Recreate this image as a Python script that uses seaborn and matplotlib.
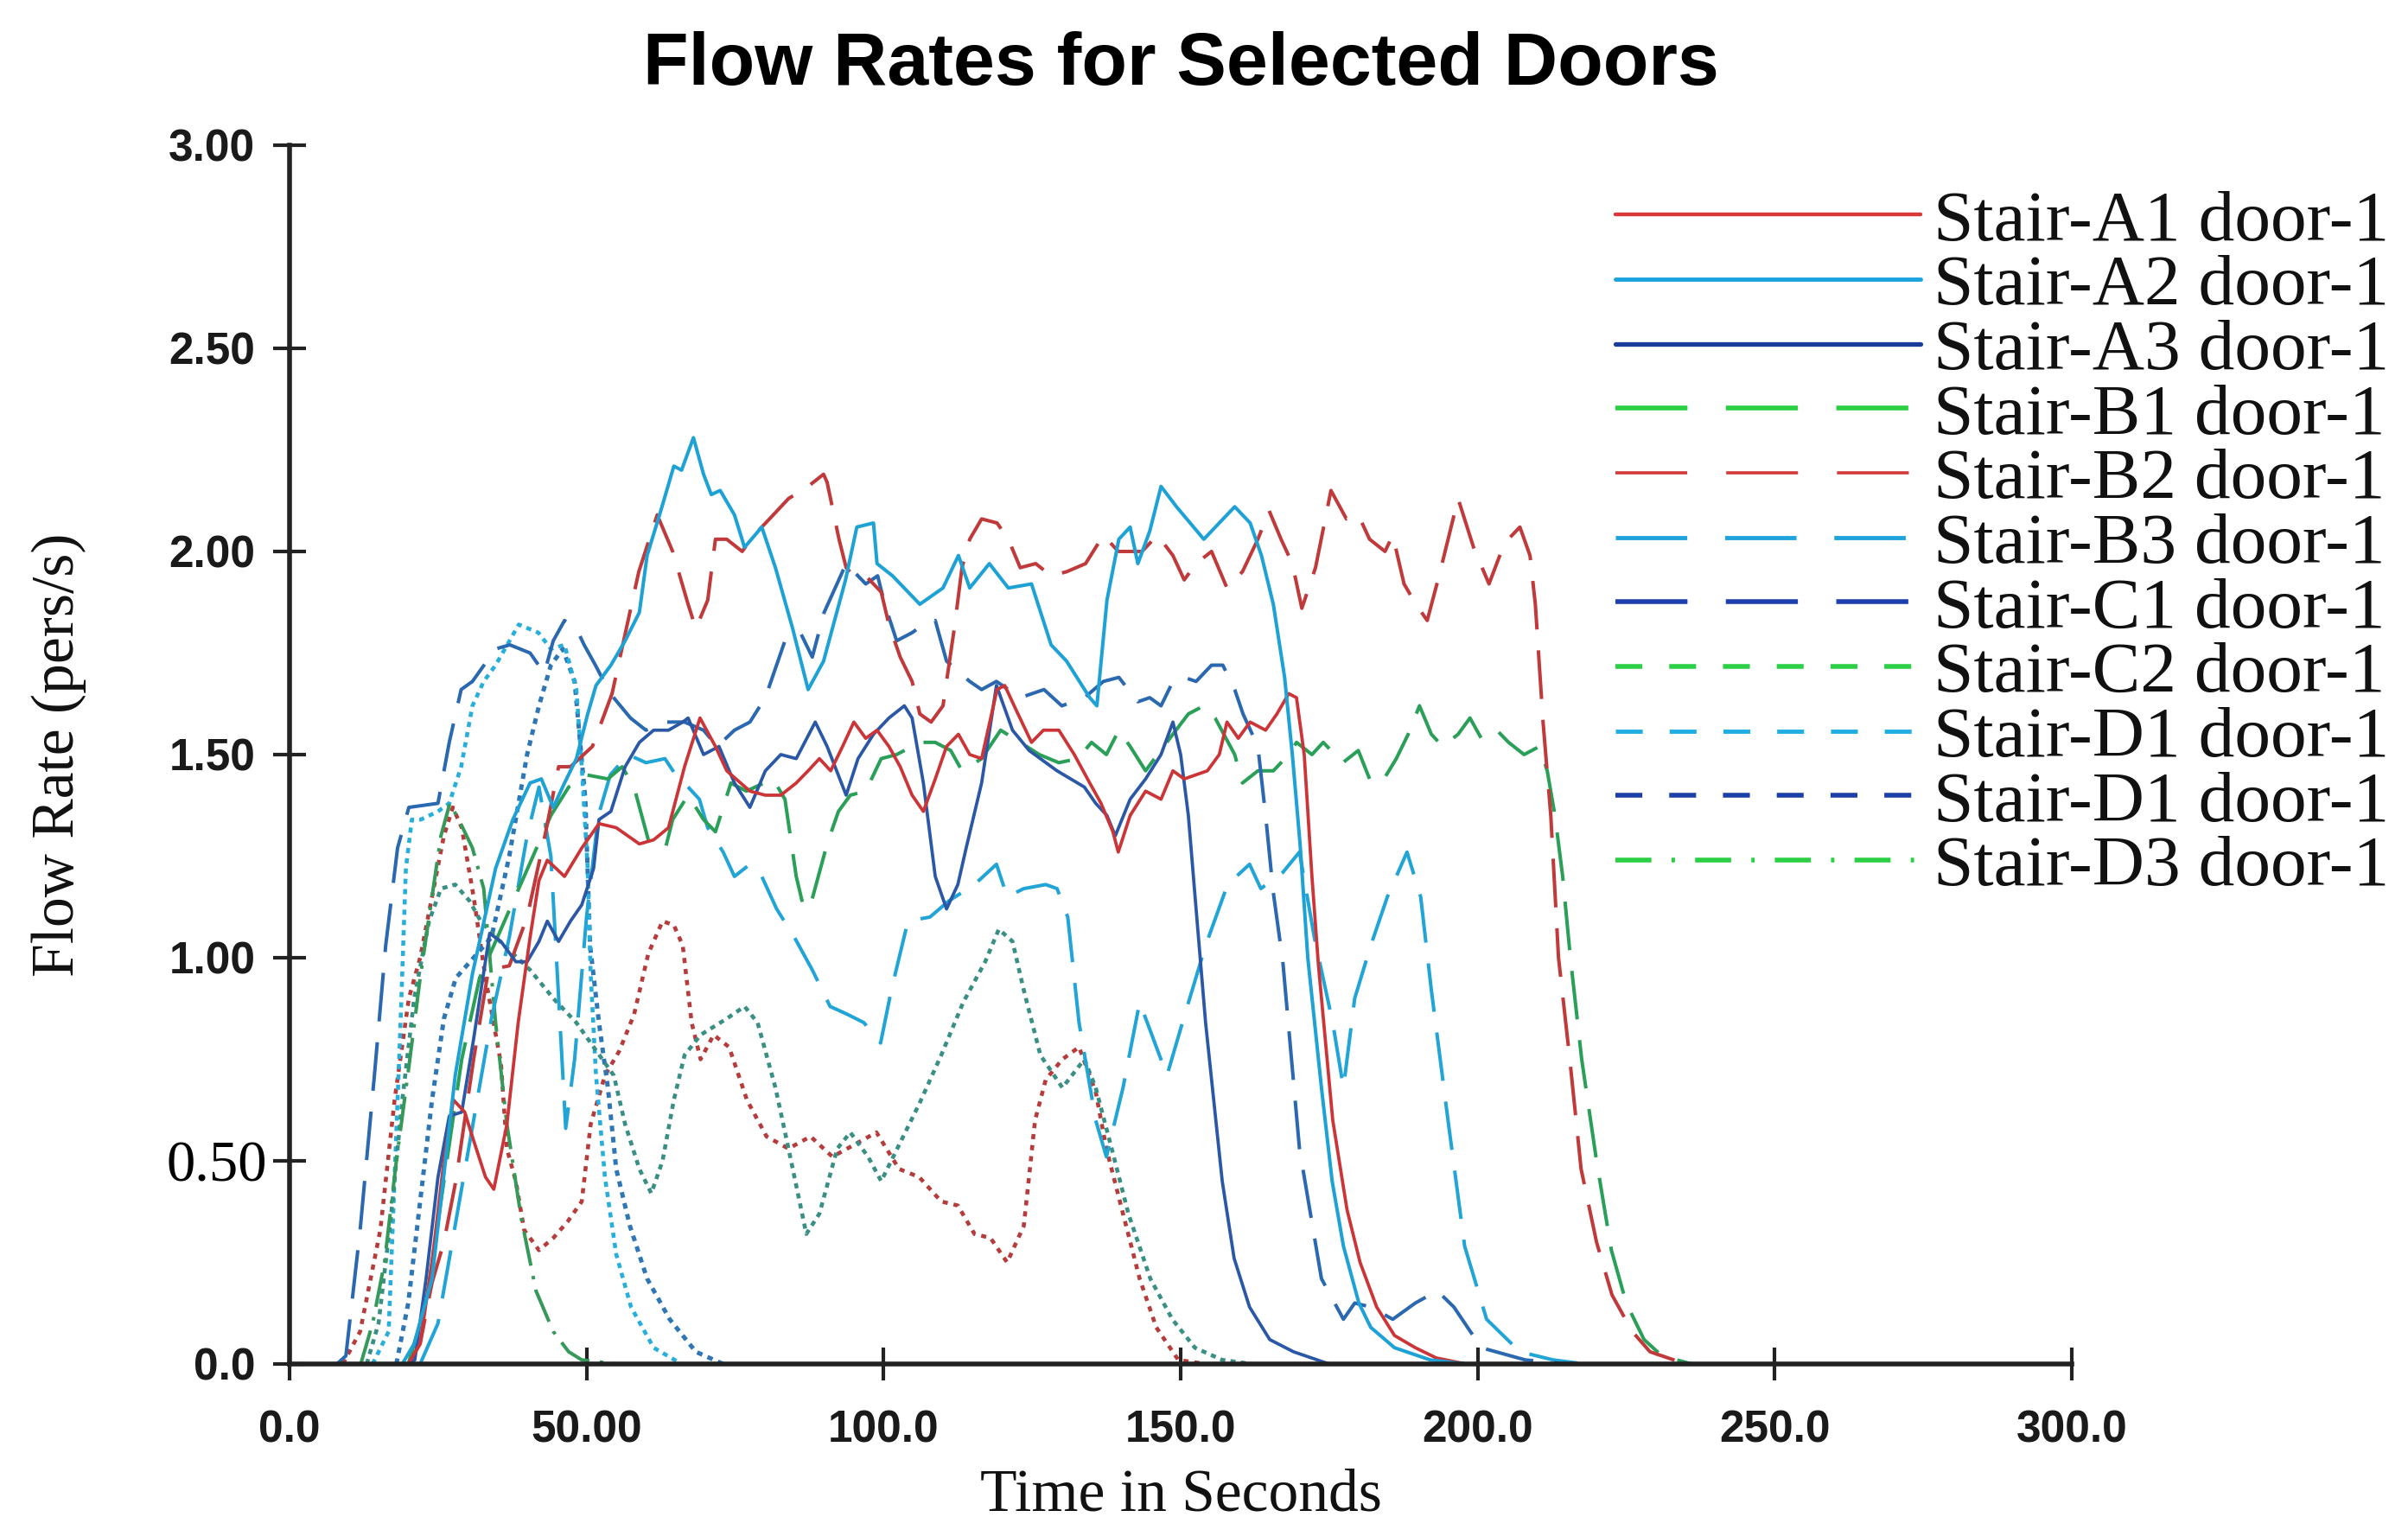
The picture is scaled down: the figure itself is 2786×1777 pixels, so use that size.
import pandas as pd
import seaborn as sns
import matplotlib
matplotlib.use('Agg')
import matplotlib.pyplot as plt
from matplotlib.lines import Line2D
from matplotlib.transforms import ScaledTranslation
from matplotlib import font_manager

# flow curves: (time in s, flow rate in pers/s)
a1 = [(20,0),(22,0.05),(24,0.25),(26,0.5),(27.6,0.65),(29.5,0.62),(31,0.55),(33,0.46),(34.4,0.43),
      (36.6,0.59),(38.5,0.84),(40.5,1.05),(42,1.19),(43.4,1.24),(46.3,1.20),(49.2,1.27),(52.1,1.33),
      (55,1.32),(58.9,1.28),(61.3,1.29),(63.8,1.32),(66.5,1.47),(69.1,1.59),(71.7,1.52),(73.6,1.46),
      (77.5,1.41),(80.1,1.40),(82.7,1.40),(85.3,1.43),(87.3,1.46),(89.2,1.49),(91.1,1.46),(93.1,1.52),
      (95,1.58),(97,1.54),(98.9,1.56),(100.9,1.52),(102.8,1.47),(104.8,1.40),(106.7,1.36),(108.7,1.44),
      (110.6,1.52),(112.6,1.55),(114.5,1.50),(116.5,1.49),(119.1,1.66),(120.4,1.67),(122.3,1.61),
      (124.9,1.53),(126.9,1.56),(129.5,1.56),(132.1,1.50),(134.7,1.43),(136.6,1.38),(138.6,1.31),
      (139.5,1.26),(141.5,1.35),(144.1,1.41),(146.7,1.39),(148.7,1.46),(150.6,1.44),(154.5,1.46),
      (156.5,1.50),(157.8,1.58),(159.7,1.54),(161.7,1.58),(164.3,1.56),(166.2,1.60),(168.2,1.65),
      (169.5,1.64),(170.8,1.50),(172.1,1.20),(173.2,0.98),(175.6,0.60),(178,0.38),(180.2,0.25),
      (183,0.14),(186,0.07),(189.5,0.04),(193,0.015),(198,0)]

a2 = [(19,0),(21,0.05),(24,0.21),(27.9,0.71),(30.8,0.96),(34.7,1.22),(37.6,1.34),(40.5,1.43),
      (42.4,1.44),(44.4,1.37),(46.3,1.43),(48.3,1.49),(50.2,1.60),(51.6,1.67),(54.1,1.72),(56.5,1.78),
      (58.9,1.85),(60.2,1.99),(62.5,2.10),(64.7,2.21),(66,2.20),(68,2.28),(69.7,2.19),(71,2.14),
      (72.5,2.15),(74.9,2.09),(76.6,2.01),(79.5,2.06),(81.8,1.96),(84.7,1.81),(87.3,1.66),(89.9,1.73),
      (93.6,1.93),(95.5,2.06),(98.3,2.07),(98.9,1.97),(101.5,1.94),(106.1,1.87),(110,1.91),(112.6,1.99),
      (114.5,1.91),(117.8,1.97),(121,1.91),(124.9,1.92),(128.2,1.77),(130.8,1.73),(134.7,1.64),
      (135.9,1.62),(137.6,1.88),(139.6,2.03),(141.5,2.06),(142.8,1.97),(144.8,2.05),(146.7,2.16),
      (149.3,2.11),(153.9,2.03),(156.5,2.07),(159.1,2.11),(161.7,2.07),(163.6,1.99),(165.6,1.87),
      (167.5,1.69),(168.8,1.50),(170.1,1.28),(171.4,1.0),(173.7,0.68),(175.5,0.45),(177.4,0.29),
      (180,0.15),(182,0.09),(186,0.04),(192,0.01),(198,0)]

a3 = [(20,0),(21.1,0.01),(23,0.21),(25,0.46),(26.9,0.61),(29,0.62),(31,0.80),(33.7,1.06),(35.6,1.04),
      (38.1,0.99),(40,0.99),(42,1.04),(43.4,1.09),(45.3,1.04),(47.3,1.09),(49.2,1.13),(51.2,1.22),
      (52.1,1.34),(54.1,1.36),(56.5,1.47),(58.9,1.53),(61.3,1.56),(63.8,1.56),(66.2,1.58),(67.1,1.59),
      (69.7,1.50),(72.3,1.52),(74.9,1.43),(77.5,1.37),(80.1,1.46),(82.7,1.50),(85.3,1.49),(88.5,1.58),
      (90.5,1.52),(93.7,1.40),(95.7,1.49),(98.3,1.55),(100.9,1.59),(103.5,1.62),(104.8,1.59),
      (106.7,1.43),(108.7,1.20),(110.6,1.12),(112.5,1.18),(113.9,1.27),(116.5,1.43),(119,1.67),
      (121.7,1.56),(124.5,1.51),(129.2,1.46),(133.8,1.42),(135.7,1.38),(137.6,1.35),(139,1.30),
      (141.5,1.39),(144.1,1.44),(146.7,1.50),(148.7,1.58),(150,1.50),(151.3,1.35),(152.6,1.12),
      (154.2,0.84),(157,0.45),(159,0.26),(161.6,0.14),(165,0.06),(169,0.03),(175,0)]

b1 = [(20,0),(23,0.15),(26,0.45),(29,0.75),(32,0.95),(35,1.05),(38,1.15),(41,1.25),(44,1.35),
      (47,1.42),(50,1.45),(53.6,1.44),(56,1.47),(58,1.42),(60.4,1.29),(63.3,1.27),(64.5,1.34),
      (67.1,1.40),(69.7,1.34),(71.7,1.31),(74.3,1.43),(76.9,1.41),(81.4,1.44),(83.4,1.39),(85.3,1.20),
      (86.6,1.12),(87.9,1.14),(90.5,1.28),(92.4,1.36),(94.4,1.40),(97,1.41),(99.6,1.49),(102.2,1.50),
      (106.1,1.53),(108.7,1.53),(111.3,1.51),(113.2,1.46),(116.5,1.49),(119.7,1.56),(123,1.53),
      (126.2,1.50),(129.5,1.48),(132.7,1.49),(135,1.53),(137.5,1.50),(139.6,1.56),(141.5,1.52),
      (144.1,1.46),(146.1,1.50),(148.7,1.55),(151.3,1.60),(153.9,1.62),(155.8,1.59),(159.1,1.50),
      (160.4,1.43),(163,1.46),(165.6,1.46),(168.2,1.50),(169.5,1.53),(172.1,1.50),(174,1.53),
      (177.3,1.48),(179.9,1.51),(181.8,1.44),(183.8,1.43),(186.3,1.49),(188.3,1.55),(190.2,1.62),
      (192.2,1.55),(194.1,1.52),(196.7,1.55),(198.7,1.59),(200.6,1.54),(203.2,1.56),(205.2,1.53),
      (207.8,1.50),(210.4,1.52),(211.7,1.46),(213,1.35),(214.3,1.20),(215.6,1.0),(217.5,0.75),
      (220,0.50),(222.5,0.28),(225,0.15),(228,0.06),(231,0.02),(236,0)]

b2 = [(20,0),(22,0.05),(24,0.2),(26,0.3),(28,0.45),(31,0.75),(33.5,0.97),(37,0.98),(40,1.1),(43,1.3),
      (45.3,1.47),(47.3,1.47),(51,1.52),(54.3,1.65),(58.8,1.95),(61.9,2.09),(64.5,2.0),(67.1,1.87),
      (68.4,1.81),(70.4,1.88),(71.7,2.03),(73.6,2.03),(76.2,2.0),(78.2,2.04),(80.8,2.08),(84,2.13),
      (87.3,2.16),(89.9,2.19),(90.5,2.17),(92.5,2.03),(93.7,1.96),(95,1.94),(97,1.94),(99.6,1.90),
      (100.9,1.82),(102.8,1.74),(104.8,1.68),(106.1,1.60),(108,1.58),(110,1.62),(111.9,1.81),
      (113.2,1.96),(114.5,2.03),(116.5,2.08),(119.1,2.07),(121,2.03),(123,1.96),(125.6,1.97),
      (128.2,1.94),(130.8,1.95),(134,1.97),(137,2.04),(139.5,2.0),(143.5,2.0),(146.1,2.04),(148.7,1.99),
      (150.6,1.93),(152.6,1.97),(155.2,2.0),(157.8,1.91),(160.4,1.95),(163,2.03),(164.9,2.10),
      (166.9,2.03),(168.8,1.97),(170.4,1.86),(172.7,1.96),(175.3,2.15),(177.9,2.08),(179.9,2.09),
      (181.8,2.03),(184.4,2.0),(185.7,2.04),(187.6,1.92),(189.6,1.87),(191.5,1.83),(193.5,1.94),
      (196.7,2.13),(199.3,2.01),(201.9,1.92),(204.5,2.02),(207.1,2.06),(208.8,1.99),(209.7,1.87),
      (211,1.58),(212.3,1.35),(213.6,1.0),(215.5,0.75),(217.4,0.48),(220,0.3),(222.6,0.17),(226,0.08),
      (229,0.03),(235,0)]

b3 = [(22,0),(25,0.1),(28,0.35),(31,0.6),(34,0.85),(37,1.05),(40,1.3),(42,1.42),(44,1.25),(45.5,0.85),
      (46.5,0.58),(48,0.75),(50,1.1),(52,1.35),(54,1.45),(57,1.50),(60,1.48),(63.2,1.49),(65,1.45),
      (67.1,1.42),(69,1.39),(70.4,1.32),(71.7,1.29),(73,1.26),(74.9,1.20),(77.5,1.23),(79.5,1.20),
      (82,1.12),(85,1.05),(88,0.97),(91,0.88),(94,0.86),(96.7,0.84),(99.5,0.79),(101.3,0.92),
      (104.1,1.09),(107.8,1.10),(111,1.14),(115.3,1.18),(119,1.23),(120.8,1.15),(123.6,1.17),
      (127.3,1.18),(129.2,1.17),(131,1.10),(132.9,0.84),(135.7,0.60),(137.5,0.51),(140.3,0.68),
      (143.1,0.89),(144.9,0.82),(147.7,0.71),(150.5,0.85),(154.2,1.03),(157.9,1.18),(161.6,1.23),
      (163.5,1.17),(167.2,1.21),(170,1.26),(172.5,1.05),(175.6,0.84),(177.4,0.68),(179.3,0.90),
      (182,1.03),(184.8,1.15),(188.1,1.26),(190.4,1.15),(192.2,0.92),(195,0.60),(197.8,0.29),
      (201.5,0.11),(207.1,0.03),(212.7,0.01),(218,0)]

c1 = [(8,0),(9.5,0.02),(11.9,0.33),(14.3,0.71),(16.2,1.03),(18.2,1.27),(20.1,1.37),(25,1.38),
      (26.9,1.53),(28.9,1.66),(30.8,1.68),(34.7,1.76),(37.1,1.77),(40.5,1.75),(42.9,1.70),(44.4,1.78),
      (46.3,1.83),(48.3,1.81),(49.6,1.77),(51.5,1.72),(54,1.65),(57.4,1.59),(60,1.56),(63.2,1.58),
      (66.5,1.58),(69.7,1.56),(72,1.52),(74.9,1.56),(77.5,1.58),(80.1,1.64),(83.4,1.78),(86,1.80),
      (88,1.74),(90,1.85),(93.7,1.97),(97,1.92),(99,1.94),(100.2,1.87),(102.2,1.78),(104.8,1.80),
      (106.7,1.82),(108.7,1.83),(110.6,1.73),(114.5,1.68),(116.5,1.66),(119,1.68),(123,1.64),
      (127,1.66),(130,1.62),(133.8,1.64),(137,1.68),(139.6,1.69),(142.8,1.63),(144.8,1.64),
      (146.7,1.62),(148.7,1.68),(150.6,1.69),(152.6,1.68),(155.2,1.72),(157.1,1.72),(159.1,1.66),
      (160.5,1.60),(163,1.52),(164.3,1.35),(165.6,1.16),(167.2,0.99),(170,0.53),(173.7,0.21),
      (177.4,0.11),(179.3,0.15),(182,0.14),(185.7,0.11),(189.5,0.15),(193.2,0.18),(196,0.14),
      (200.6,0.04),(208,0.01),(215,0)]

c2 = [(13,0),(15,0.1),(17,0.35),(19,0.65),(21,0.9),(23.5,1.09),(25.5,1.17),(27.9,1.18),(30.3,1.14),
      (32.2,1.09),(34.7,1.05),(37.6,1.01),(40.5,0.97),(44.4,0.90),(48.3,0.84),(51.2,0.78),(54.6,0.71),
      (56.5,0.59),(58.9,0.48),(60.9,0.42),(62.8,0.50),(64.7,0.65),(66.5,0.76),(69.2,0.81),(73.6,0.85),
      (76.6,0.88),(78.8,0.84),(81.8,0.68),(84,0.53),(87,0.32),(89.2,0.37),(92.2,0.53),(94.4,0.57),
      (97.4,0.51),(99.6,0.45),(102.3,0.53),(106,0.64),(109.7,0.76),(113.4,0.89),(117.1,0.99),
      (119.4,1.07),(121.7,1.04),(123.6,0.92),(126.4,0.76),(130.1,0.68),(133.8,0.75),(135.7,0.68),
      (138.4,0.53),(141.2,0.37),(144.9,0.21),(148.6,0.11),(152.4,0.04),(157,0.01),(162,0)]

d1 = [(14,0),(16.7,0.08),(17.7,0.46),(18.7,0.84),(19.6,1.22),(20.6,1.34),(22.1,1.34),(25,1.36),
      (26.9,1.38),(28.9,1.47),(30.8,1.62),(32.7,1.68),(34.7,1.72),(38.6,1.82),(41.9,1.80),(44,1.76),
      (46.3,1.77),(48.3,1.66),(49.2,1.47),(50.2,1.22),(50.7,0.96),(51.6,0.71),(53.1,0.46),(55,0.27),
      (57.5,0.14),(61.3,0.04),(66,0)]

d1b = [(18,0),(20,0.15),(22,0.4),(24,0.65),(26,0.85),(28,0.95),(31,1.0),(34,1.05),(37,1.25),(40,1.5),
       (42,1.62),(44,1.72),(46,1.76),(48,1.68),(49.8,1.39),(50.6,1.03),(52.1,0.84),(53.6,0.68),
       (55,0.48),(57.3,0.34),(60.2,0.21),(64,0.11),(68.4,0.03),(73,0)]

d3 = [(12,0),(14,0.1),(16,0.25),(18,0.5),(20,0.72),(22,0.95),(24,1.15),(25.5,1.30),(27,1.38),
      (28.5,1.34),(30.8,1.27),(32.7,1.17),(34.7,0.84),(36.6,0.59),(39,0.36),(41.5,0.18),(44.4,0.08),
      (47,0.03),(49.2,0.01),(55,0)]

# dotted red curve drawn in the plot but not listed in the legend
red_dotted = [(9,0),(11.9,0.08),(15.3,0.33),(17.7,0.65),(20.1,0.9),(22,1.0),(24,1.15),(26,1.3),
              (27.5,1.37),(29,1.32),(31,1.15),(33,0.95),(35.6,0.74),(36.6,0.53),(38.1,0.45),
              (39.5,0.33),(42,0.28),(44.4,0.31),(46.8,0.35),(49.2,0.40),(50.7,0.59),(53.1,0.71),
              (55.5,0.77),(58,0.86),(60.4,1.01),(62.8,1.09),(64.7,1.08),(66.2,1.03),(67.7,0.84),
              (69.2,0.75),(71.4,0.81),(74,0.78),(77,0.65),(80.3,0.56),(84,0.53),(87.7,0.56),(91.4,0.51),
              (95.1,0.54),(98.8,0.57),(102.6,0.48),(106,0.46),(109.7,0.40),(112.5,0.39),(115.3,0.32),
              (118,0.31),(120.8,0.25),(123.6,0.34),(125.5,0.60),(127.3,0.70),(130.1,0.75),(132.9,0.78),
              (135.7,0.67),(137.5,0.53),(140.3,0.37),(143.1,0.21),(145.9,0.09),(149.6,0.01),(154.2,0)]

labels = ['Stair-A1 door-1', 'Stair-A2 door-1', 'Stair-A3 door-1', 'Stair-B1 door-1',
          'Stair-B2 door-1', 'Stair-B3 door-1', 'Stair-C1 door-1', 'Stair-C2 door-1',
          'Stair-D1 door-1', 'Stair-D1 door-1', 'Stair-D3 door-1']

xticks = [0, 50, 100, 150, 200, 250, 300]
xtick_labels = ['0.0', '50.00', '100.0', '150.0', '200.0', '250.0', '300.0']
yticks = [0, 0.5, 1.0, 1.5, 2.0, 2.5, 3.0]
ytick_labels = ['0.0', '0.50', '1.00', '1.50', '2.00', '2.50', '3.00']

series = {'red dotted': red_dotted, 'd1b': d1b, 'd1': d1, 'c2': c2, 'd3': d3,
          'b3': b3, 'b1': b1, 'c1': c1, 'b2': b2, 'a3': a3, 'a1': a1, 'a2': a2}

rows = []
for name, pts in series.items():
    for t, r in pts:
        rows.append((name, t, r))
df = pd.DataFrame(rows, columns=['series', 't', 'rate'])

LONG = (0, (14, 6))
SHORT = (0, (1.3, 1.3))
# plotted line look (colour, width, dash)
plot_style = {
    'a1': ('#cc3538', 2.7, '-'),
    'a2': ('#1ea2d6', 2.9, '-'),
    'a3': ('#2a58a6', 2.7, '-'),
    'b1': ('#2a9f57', 2.9, LONG),
    'b2': ('#c0393b', 2.9, LONG),
    'b3': ('#21a4d6', 2.9, LONG),
    'c1': ('#2a68b0', 2.9, LONG),
    'c2': ('#3a8f84', 3.3, SHORT),
    'd1': ('#28aedb', 3.3, SHORT),
    'd1b': ('#2f76b5', 3.6, SHORT),
    'd3': ('#35995a', 2.9, (0, (10, 3, 1, 3))),
    'red dotted': ('#b63c3c', 3.3, (0, (1.3, 1.5))),
}
# legend swatches
legend_style = [
    ('#d9383a', 3.2, '-'),
    ('#1aa3dd', 3.5, '-'),
    ('#1b3d9a', 3.8, '-'),
    ('#2bcf44', 4.0, (0, (15, 8))),
    ('#d23a3a', 2.6, (0, (23, 12.5))),
    ('#1ea3dc', 3.5, (0, (17, 9))),
    ('#1f3fae', 4.0, (0, (15, 8))),
    ('#2bd046', 4.0, (0, (5.6, 5.6))),
    ('#1faee2', 3.5, (0, (6.4, 6.4))),
    ('#1c40a8', 4.0, (0, (5.6, 5.6))),
    ('#2bcf44', 4.0, (0, (7.5, 4.2, 0.7, 4.2))),
]

sns.set_theme(style='white')
plt.rcParams['font.family'] = ['Liberation Sans', 'DejaVu Sans']

# tick numbers are a narrow sans in the original; use the narrow face when it is there
try:
    font_manager.findfont('Liberation Sans Narrow', fallback_to_default=False)
    tick_family, tick_size = ['Liberation Sans Narrow', 'Liberation Sans'], 42
except ValueError:
    tick_family, tick_size = ['Liberation Sans'], 37

fig = plt.figure(figsize=(27.86, 17.77), dpi=100)
ax = fig.add_axes([0.1202, 0.1120, 0.7402, 0.7935])

for name in series:
    c, w, ls = plot_style[name]
    sub = df[df['series'] == name]
    sns.lineplot(data=sub, x='t', y='rate', ax=ax, color=c, linewidth=w, linestyle=ls,
                 estimator=None, sort=False, legend=False)

ax.set_xlim(0, 300)
ax.set_ylim(0, 3)
ax.set_xticks(xticks)
ax.set_xticklabels(xtick_labels)
ax.set_yticks(yticks)
ax.set_yticklabels(ytick_labels)
sns.despine(ax=ax)
for s in ['left', 'bottom']:
    ax.spines[s].set_linewidth(4)
    ax.spines[s].set_color('#222222')

ax.tick_params(axis='both', direction='inout', length=27, width=3, color='#222222',
               labelsize=tick_size, labelcolor='#1a1a1a', bottom=True, left=True)
ax.tick_params(axis='y', pad=15)
ax.tick_params(axis='x', pad=24)
for lab in ax.get_xticklabels() + ax.get_yticklabels():
    lab.set_fontfamily(tick_family)
    lab.set_fontweight('bold')
# the 0.50 label is set in a serif face, a little closer to the axis
odd = ax.get_yticklabels()[1]
odd.set_fontfamily('Liberation Serif')
odd.set_fontweight('normal')
odd.set_fontsize(48)
odd.set_color('black')
odd.set_transform(odd.get_transform() + ScaledTranslation(0.14, 0, fig.dpi_scale_trans))

ax.set_xlabel('Time in Seconds', family='Liberation Serif', fontsize=50, labelpad=14, color='#111111')
ax.set_ylabel('Flow Rate (pers/s)', family='Liberation Serif', fontsize=50, labelpad=67, color='#111111')
ax.set_title('Flow Rates for Selected Doors', fontsize=62, fontweight='bold', pad=50, color='black')

handles = [Line2D([], [], color=c, linewidth=w, linestyle=ls) for c, w, ls in legend_style]
leg = ax.legend(handles, labels, loc='upper left', bbox_to_anchor=(0.6709, 0.8766),
                bbox_transform=fig.transFigure, frameon=False,
                prop={'family': 'Liberation Serif', 'size': 60},
                handlelength=4.24, handletextpad=0.17, labelspacing=-0.02,
                borderpad=0, borderaxespad=0)
for txt in leg.get_texts():
    txt.set_color('#111111')

fig.savefig('out.png', dpi=100)
